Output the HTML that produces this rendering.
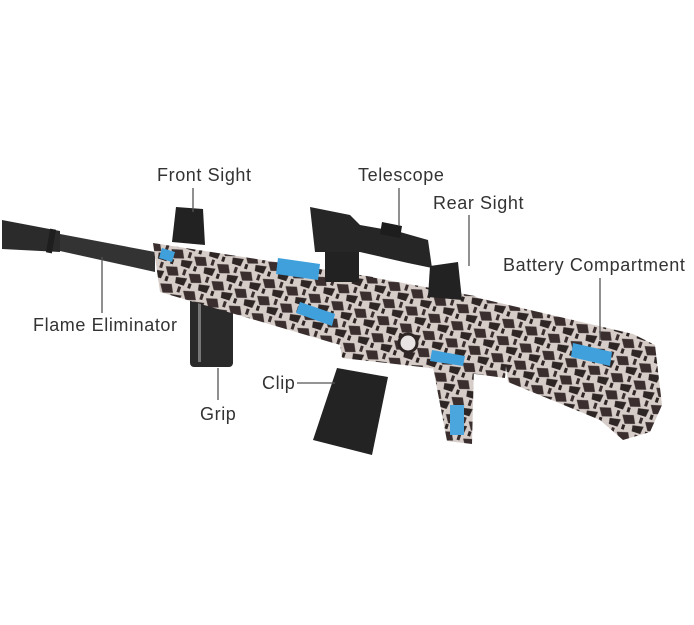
<!DOCTYPE html>
<html><head><meta charset="utf-8"><style>
html,body{margin:0;padding:0;background:#fff;}
svg{display:block}
text{font-family:"Liberation Sans",sans-serif;font-size:18px;letter-spacing:0.6px;fill:#333;}
</style></head><body>
<svg width="694" height="625" viewBox="0 0 694 625" xmlns="http://www.w3.org/2000/svg">
<defs>
<pattern id="g" width="24" height="18" patternUnits="userSpaceOnUse" patternTransform="rotate(18)">
<rect width="24" height="18" fill="#d6ccc8"/>
<path d="M0 4 L11 1 L15 9 L5 12Z" fill="#3a2f2e"/>
<path d="M13 11 L24 9 L23 17 L14 17Z" fill="#2e2625"/>
<rect x="3" y="13" width="3" height="5" fill="#2e2625"/>
<rect x="18" y="1" width="3" height="6" fill="#3a2f2e"/>
</pattern>
</defs>
<!-- barrel -->
<polygon points="2,220 60,231 60,252 2,249" fill="#2b2b2b"/>
<rect x="48" y="229" width="6" height="24" fill="#1e1e1e" transform="rotate(10 51 241)"/>
<polygon points="60,234 155,252 155,272 60,251" fill="#333"/>
<!-- front sight -->
<polygon points="176,207 203,209 205,245 172,242" fill="#222"/>
<!-- foregrip -->
<rect x="190" y="297" width="43" height="70" rx="4" fill="#2a2a2a"/>
<rect x="198" y="300" width="3" height="62" fill="#777"/>
<!-- magazine -->
<polygon points="337,368 388,377 372,455 313,440" fill="#232323"/>
<!-- pistol grip -->
<polygon points="432,362 474,366 472,444 447,441" fill="url(#g)"/>
<rect x="450" y="405" width="14" height="30" fill="#4aa6dc"/>
<!-- handguard -->
<polygon points="153,243 373,277 380,335 340,345 160,292" fill="url(#g)"/>
<!-- receiver -->
<polygon points="370,277 475,296 510,320 505,378 430,368 342,358 338,330" fill="url(#g)"/>
<circle cx="408" cy="343" r="9" fill="#e9e4e4" stroke="#2e2625" stroke-width="3"/>
<!-- stock -->
<polygon points="470,296 633,334 655,345 662,405 650,432 623,440 600,420 508,382 500,320" fill="url(#g)"/>
<!-- blue accents -->
<polygon points="278,258 320,264 318,280 276,274" fill="#3fa0dc"/>
<polygon points="300,302 335,314 332,326 296,313" fill="#3fa0dc"/>
<polygon points="573,343 612,352 610,366 571,357" fill="#3fa0dc"/>
<polygon points="432,350 465,356 463,366 430,361" fill="#3fa0dc"/>
<polygon points="162,248 175,252 172,262 159,258" fill="#3fa0dc"/>
<!-- scope -->
<rect x="325" y="252" width="34" height="30" fill="#222"/>
<polygon points="310,207 350,215 360,225 400,232 428,240 432,268 408,263 360,252 315,252" fill="#262626"/>
<polygon points="382,222 402,226 400,238 380,234" fill="#1d1d1d"/>
<!-- rear sight -->
<polygon points="430,266 458,262 462,300 428,297" fill="#222"/>
<!-- label lines -->
<g stroke="#555" stroke-width="1.3">
<line x1="193" y1="188" x2="193" y2="212"/>
<line x1="399" y1="188" x2="399" y2="226"/>
<line x1="469" y1="215" x2="469" y2="266"/>
<line x1="600" y1="278" x2="600" y2="340"/>
<line x1="102" y1="257" x2="102" y2="313"/>
<line x1="218" y1="368" x2="218" y2="400"/>
<line x1="297" y1="383" x2="335" y2="383"/>
</g>
<!-- labels -->
<text x="157" y="181">Front Sight</text>
<text x="358" y="181">Telescope</text>
<text x="433" y="209">Rear Sight</text>
<text x="503" y="271">Battery Compartment</text>
<text x="33" y="331">Flame Eliminator</text>
<text x="200" y="420">Grip</text>
<text x="262" y="389">Clip</text>
</svg>
</body></html>
